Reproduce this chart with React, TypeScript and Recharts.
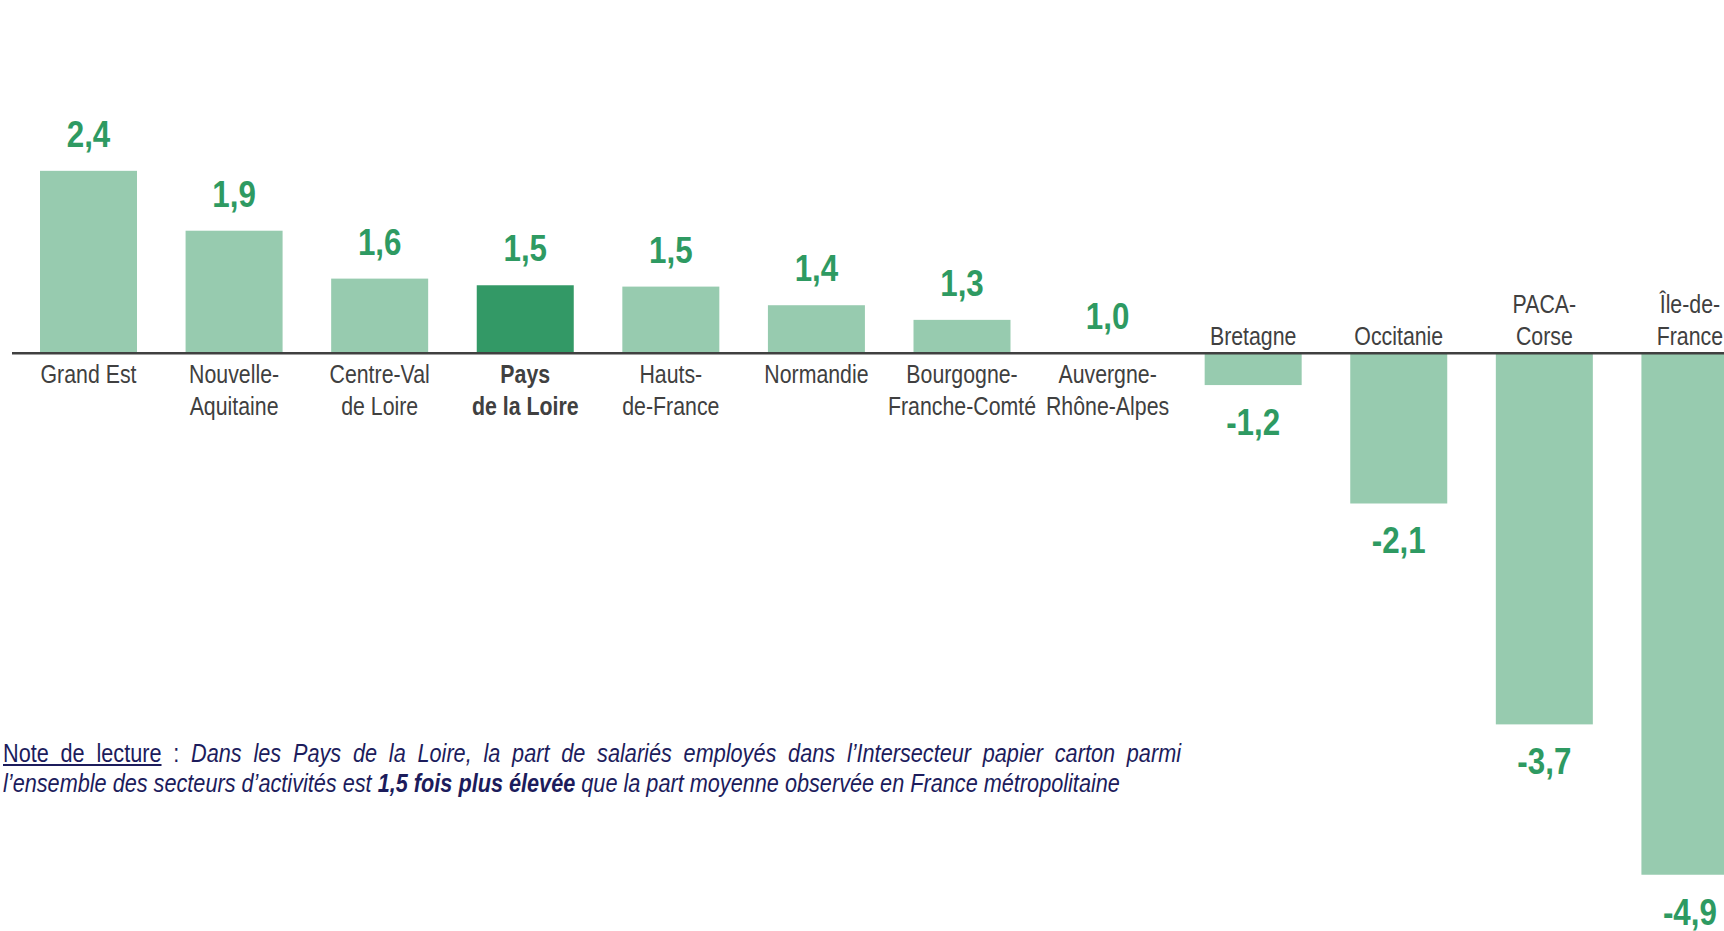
import { BarChart, Bar, XAxis, YAxis, ReferenceLine } from 'recharts';

// regions, "\n" marks the line break of the tick label
const regions = [
    'Grand Est',
    'Nouvelle-\nAquitaine',
    'Centre-Val\nde Loire',
    'Pays\nde la Loire',
    'Hauts-\nde-France',
    'Normandie',
    'Bourgogne-\nFranche-Comté',
    'Auvergne-\nRhône-Alpes',
    'Bretagne',
    'Occitanie',
    'PACA-\nCorse',
    'Île-de-\nFrance',
];

// ratio printed above / below each bar
const ratios = [2.4, 1.9, 1.6, 1.5, 1.5, 1.4, 1.3, 1.0, -1.2, -2.1, -3.7, -4.9];

// gap to the national average (bar length)
const ecarts = [1.37, 0.92, 0.56, 0.51, 0.5, 0.36, 0.25, 0, -0.24, -1.13, -2.79, -3.92];

const highlighted = 'Pays\nde la Loire';

const data = regions.map((name, i) => ({ name, ratio: ratios[i], ecart: ecarts[i] }));

// no Arial Narrow here: Liberation Sans squeezed horizontally
const FONT = '"Liberation Sans", Arial, sans-serif';
const SQUEEZE = 0.82;
const NOTE_SQUEEZE = 0.85;

const COLORS = {
    bar: '#97cbaf',
    highlight: '#339966',
    value: '#2e9a62',
    label: '#404040',
    axis: '#404040',
    note: '#1c1c5c',
};

const NarrowText = ({ x, y, squeeze = SQUEEZE, children, ...rest }: any) => (
    <text transform={`translate(${x},${y}) scale(${squeeze},1)`} x={0} y={0} textAnchor="middle" fontFamily={FONT} {...rest}>
        {children}
    </text>
);

const BarShape = (props: any) => {
    const { x, y, width, height, payload } = props;
    const base = y + height;
    const top = Math.min(y, base);
    const h = Math.abs(height);
    const positive = payload.ecart >= 0;
    const isHi = payload.name === highlighted;
    const lines: string[] = payload.name.split('\n');
    const cx = x + width / 2;
    const txt = payload.ratio.toFixed(1).replace('.', ',');
    return (
        <g>
            {h > 0 && <rect x={x} y={top} width={width} height={h} fill={isHi ? COLORS.highlight : COLORS.bar} />}
            <NarrowText
                x={cx}
                y={positive ? top - 24 : top + h + 50}
                squeeze={0.87}
                fill={COLORS.value}
                fontWeight="bold"
                fontSize={36}
            >
                {txt}
            </NarrowText>
            {lines.map((l, k) => (
                <NarrowText
                    key={k}
                    x={cx}
                    y={positive ? base + 30 + k * 32 : base - 8 - (lines.length - 1 - k) * 32}
                    fill={COLORS.label}
                    fontSize={26}
                    fontWeight={isHi ? 'bold' : 'normal'}
                >
                    {l}
                </NarrowText>
            ))}
        </g>
    );
};

const noteStyle = {
    position: 'absolute' as const,
    left: 3,
    width: 1178 / NOTE_SQUEEZE,
    fontFamily: FONT,
    fontSize: 25.5,
    lineHeight: '30px',
    color: COLORS.note,
    transform: `scaleX(${NOTE_SQUEEZE})`,
    transformOrigin: 'left top',
};

export default function App() {
    return (
        <div
            style={{
                position: 'absolute',
                left: 0,
                top: 0,
                width: 1724,
                height: 931,
                overflow: 'hidden',
                background: '#fff',
            }}
        >
            <BarChart width={1770} height={931} data={data} margin={{ top: 87, right: 7, bottom: 19, left: 12 }}>
                <XAxis dataKey="name" hide padding={{ left: 4, right: 0 }} />
                <YAxis hide domain={[-4.2, 2]} />
                <Bar dataKey="ecart" barSize={97} shape={<BarShape />} isAnimationActive={false} />
                <ReferenceLine y={0} stroke={COLORS.axis} strokeWidth={2.5} />
            </BarChart>
            <div style={{ ...noteStyle, top: 738, textAlign: 'justify', textAlignLast: 'justify' }}>
                <span style={{ textDecoration: 'underline' }}>Note de lecture</span> :{' '}
                <i>Dans les Pays de la Loire, la part de salariés employés dans l’Intersecteur papier carton parmi</i>
            </div>
            <div style={{ ...noteStyle, top: 768, whiteSpace: 'nowrap' }}>
                <i>
                    l’ensemble des secteurs d’activités est <b>1,5 fois plus élevée</b> que la part moyenne observée en
                    France métropolitaine
                </i>
            </div>
        </div>
    );
}
